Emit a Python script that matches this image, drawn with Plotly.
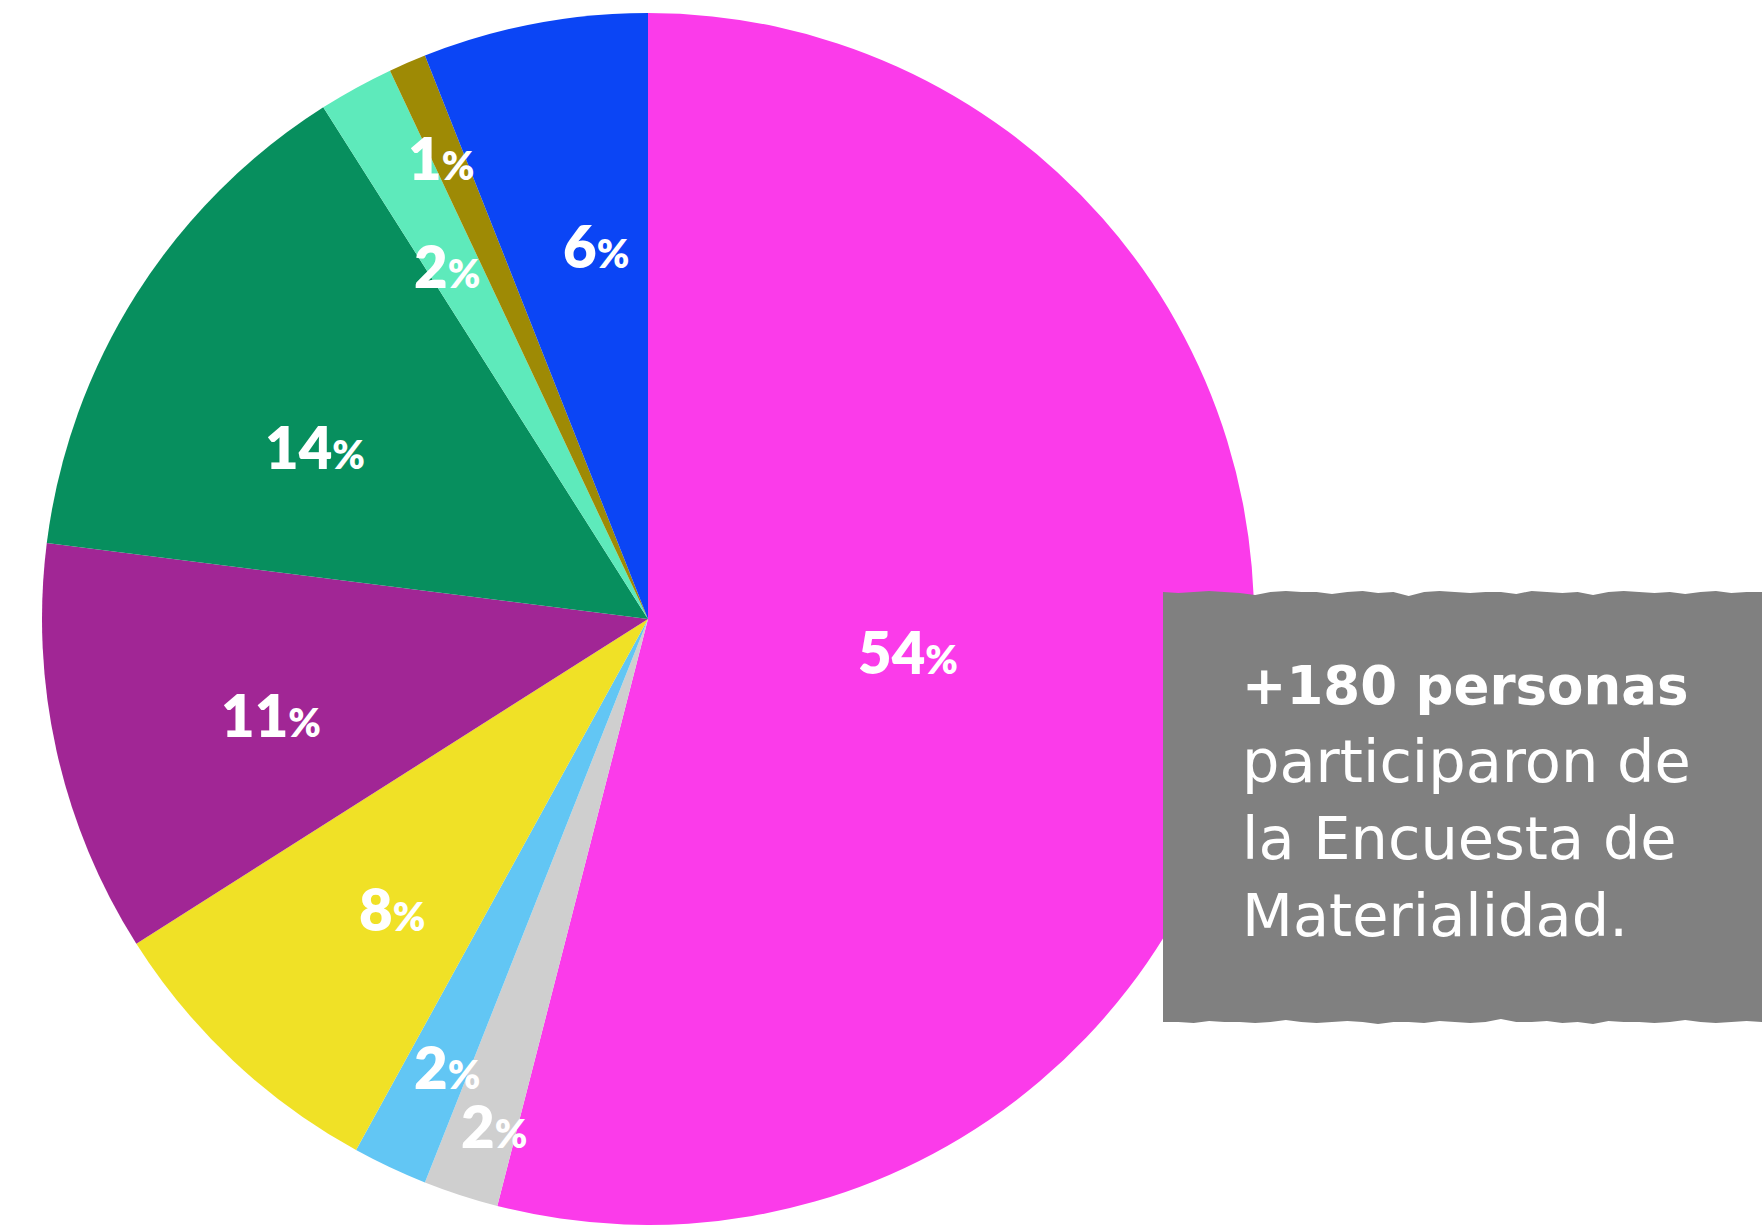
import math
import plotly.graph_objects as go

# ---- data -------------------------------------------------------------
segments = ["Segmento A", "Segmento B", "Segmento C", "Segmento D", "Segmento E",
            "Segmento F", "Segmento G", "Segmento H", "Segmento I"]
shares = [54, 2, 2, 8, 11, 14, 2, 1, 6]
colors = ["#FB3BEA", "#CFCFCF", "#62C6F4", "#F0E126", "#A12695",
          "#078F5E", "#5EEABB", "#9E8A05", "#0B45F5"]

headline = "+180 personas"
body_lines = ["participaron de", "la Encuesta de", "Materialidad."]

# ---- layout constants --------------------------------------------------
W, H = 1762, 1225
CX_PX = 648                      # pie centre (px from left)
TOP_PX = 13                      # gap above the pie
R_PX = (H - TOP_PX) / 2
CY_PX = TOP_PX + R_PX
DOMAIN_X = [(CX_PX - R_PX) / W, (CX_PX + R_PX) / W]
DOMAIN_Y = [0, 1 - TOP_PX / H]

# label placement inside each slice: radial fraction and position along the arc
label_radius = [0.433, 0.874, 0.809, 0.638, 0.642, 0.618, 0.67, 0.835, 0.622]
label_arc = [0.50, 0.35, 0.36, 0.44, 0.46, 0.40, 0.39, 0.30, 0.63]

LABEL_FONT = "Lato"
BOX_FONT = "DejaVu Sans"

fig = go.Figure()
fig.add_trace(go.Pie(
    labels=segments,
    values=shares,
    sort=False,
    direction="clockwise",
    rotation=0,
    marker=dict(colors=colors, line=dict(width=0)),
    textinfo="none",
    hovertemplate="%{label}: %{value}%<extra></extra>",
    showlegend=False,
    domain=dict(x=DOMAIN_X, y=DOMAIN_Y),
))

annotations = []
total = sum(shares)
cum = 0
for val, frac, arc in zip(shares, label_radius, label_arc):
    ang = (cum + val * arc) / total * 2 * math.pi
    cum += val
    r = frac * R_PX
    x_px = CX_PX + r * math.sin(ang)
    y_px = CY_PX - r * math.cos(ang)
    annotations.append(dict(
        x=x_px / W, y=1 - y_px / H, xref="paper", yref="paper",
        text=f"{val}<span style='font-size:39px'>%</span>",
        showarrow=False, xanchor="center", yanchor="middle",
        font=dict(family=LABEL_FONT, size=58, color="white", weight=800),
    ))

# ---- rough-edged grey panel -------------------------------------------
BOX_L, BOX_T, BOX_B = 1163, 592, 1022
top_jitter = [0, 1, 0, -1, 0, 1, 3, 0, -1, 0, 0, 2, 0, -1, 1, 0, 4, 0, -1, 0,
              1, 0, 0, 2, -1, 0, 1, 0, 3, 0, -1, 0, 1, 0, 2, 0, -1, 1, 0, 0]
bot_jitter = [0, -1, 0, 1, 0, -2, 0, 1, 0, 0, -1, 2, 0, 1, -1, 0, 0, -3, 0, 1,
              0, -1, 1, 0, 0, 2, 0, -1, 0, 1, 0, -2, 0, 1, 0, 0, -1, 1, 0, 0]


def px(x, y):
    return f"{x / W:.5f},{1 - y / H:.5f}"


step = (W - BOX_L) / (len(top_jitter) - 1)
pts = [px(BOX_L + i * step, BOX_T + j) for i, j in enumerate(top_jitter)]
step_b = (W - BOX_L) / (len(bot_jitter) - 1)
pts += [px(W - i * step_b, BOX_B + j) for i, j in enumerate(bot_jitter)]
path = "M " + " L ".join(pts) + " Z"

shapes = [dict(type="path", path=path, xref="paper", yref="paper",
               fillcolor="#808080", line=dict(width=0), layer="above")]

TEXT_X = 1240 / W
baselines = [704, 783, 860, 937]
sizes = [53, 59, 59, 59]
weights = [700, 400, 400, 400]
for txt, base, size, wt in zip([headline] + body_lines, baselines, sizes, weights):
    bottom = base + 0.236 * size + 1
    annotations.append(dict(
        x=TEXT_X, y=1 - bottom / H, xref="paper", yref="paper",
        text=txt, showarrow=False, xanchor="left", yanchor="bottom",
        font=dict(family=BOX_FONT, size=size, color="white", weight=wt),
    ))

fig.update_layout(
    width=W, height=H,
    margin=dict(l=0, r=0, t=0, b=0),
    paper_bgcolor="white", plot_bgcolor="white",
    shapes=shapes,
    annotations=annotations,
)

fig.write_html("out.html")
